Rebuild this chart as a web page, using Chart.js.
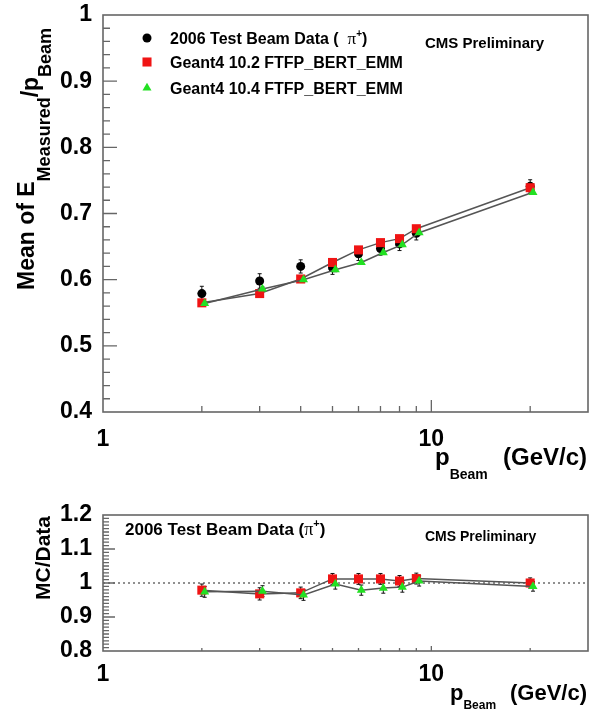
<!DOCTYPE html>
<html>
<head>
<meta charset="utf-8">
<script src="https://cdn.jsdelivr.net/npm/chart.js@4.4.1/dist/chart.umd.min.js"></script>
<style>
  body { margin: 0; background: #fff; }
  canvas { position: absolute; left: 0; }
  #top { top: 0; }
  #bot { top: 480px; }
</style>
</head>
<body>
<canvas id="top" width="598" height="480"></canvas>
<canvas id="bot" width="598" height="231"></canvas>
<script>
// beam momenta (GeV/c); the G4 10.4 markers sit slightly to the right in the picture
const pBeam = [2, 3, 4, 5, 6, 7, 8, 9, 20];
const pBeamG104 = [2.04, 3.06, 4.08, 5.1, 6.12, 7.14, 8.16, 9.18, 20.4];

// upper panel: mean of E_measured / p_beam
const meanData = [0.579, 0.598, 0.620, 0.618, 0.639, 0.647, 0.654, 0.670, 0.741];
const meanDataErr = [0.011, 0.011, 0.010, 0.010, 0.010, 0.010, 0.010, 0.010, 0.010];
const meanG102 = [0.565, 0.579, 0.601, 0.626, 0.645, 0.656, 0.662, 0.677, 0.739];
const meanG102Err = [0.003, 0.003, 0.003, 0.003, 0.003, 0.003, 0.003, 0.003, 0.003];
const meanG104 = [0.564, 0.586, 0.600, 0.615, 0.626, 0.641, 0.653, 0.671, 0.732];
const meanG104Err = [0.003, 0.003, 0.003, 0.003, 0.003, 0.003, 0.003, 0.003, 0.003];

// lower panel: MC / data
const ratioG102 = [0.979, 0.968, 0.971, 1.012, 1.012, 1.012, 1.006, 1.013, 1.000];
const ratioG102Err = [0.018, 0.018, 0.017, 0.016, 0.016, 0.016, 0.016, 0.016, 0.015];
const ratioG104 = [0.974, 0.976, 0.965, 0.997, 0.979, 0.985, 0.988, 1.006, 0.990];
const ratioG104Err = [0.016, 0.016, 0.016, 0.015, 0.015, 0.015, 0.015, 0.015, 0.014];

const topYTicks = [0.4, 0.5, 0.6, 0.7, 0.8, 0.9, 1];
const botYTicks = [0.8, 0.9, 1, 1.1, 1.2];
const xTickLabels = [1, 10];

const RED = "#f01414";
const GREEN = "#22e022";
const FRAME = "#666";
const SANS = '"Liberation Sans", Arial, Helvetica, sans-serif';

function pts(xs, ys) {
  return xs.map((x, i) => ({ x: x, y: ys[i] }));
}

function fnt(size, serif) {
  if (serif) return size + 'px "Liberation Serif", "DejaVu Serif", serif';
  return "bold " + size + "px " + SANS;
}

// draws a run of text pieces (sub/superscripts via dy), returns end x
function rich(ctx, x, y, parts) {
  let cx = x;
  parts.forEach((p) => {
    ctx.font = fnt(p.s, p.serif);
    ctx.fillText(p.t, cx, y + (p.dy || 0));
    cx += ctx.measureText(p.t).width;
  });
  return cx;
}

function richWidth(ctx, parts) {
  let w = 0;
  parts.forEach((p) => {
    ctx.font = fnt(p.s, p.serif);
    w += ctx.measureText(p.t).width;
  });
  return w;
}

function marker(ctx, style, x, y, r, color) {
  ctx.fillStyle = color;
  ctx.beginPath();
  if (style == "circle") {
    ctx.arc(x, y, r, 0, Math.PI * 2);
  } else if (style == "rect") {
    const s = r * Math.SQRT1_2;
    ctx.rect(x - s, y - s, 2 * s, 2 * s);
  } else {
    ctx.moveTo(x, y - r);
    ctx.lineTo(x + r * 0.866, y + r * 0.5);
    ctx.lineTo(x - r * 0.866, y + r * 0.5);
    ctx.closePath();
  }
  ctx.fill();
}

function decor(cfg) {
  return {
    id: "decor",
    beforeDatasetsDraw(chart) {
      const ctx = chart.ctx;
      const a = chart.chartArea;
      const xs = chart.scales.x;
      const ys = chart.scales.y;
      ctx.save();
      if (cfg.refLine != null) {
        const py = ys.getPixelForValue(cfg.refLine);
        ctx.strokeStyle = "#222";
        ctx.lineWidth = 1.2;
        ctx.setLineDash([2, 3]);
        ctx.beginPath();
        ctx.moveTo(a.left, py);
        ctx.lineTo(a.right, py);
        ctx.stroke();
        ctx.setLineDash([]);
      }
      // error bars
      ctx.strokeStyle = "#111";
      ctx.lineWidth = 1;
      chart.data.datasets.forEach((ds) => {
        if (!ds.err) return;
        ds.data.forEach((p, j) => {
          const px = xs.getPixelForValue(p.x);
          const hi = ys.getPixelForValue(p.y + ds.err[j]);
          const lo = ys.getPixelForValue(p.y - ds.err[j]);
          ctx.beginPath();
          ctx.moveTo(px, hi);
          ctx.lineTo(px, lo);
          ctx.moveTo(px - 2, hi);
          ctx.lineTo(px + 2, hi);
          ctx.moveTo(px - 2, lo);
          ctx.lineTo(px + 2, lo);
          ctx.stroke();
        });
      });
      ctx.restore();
    },
    afterDraw(chart) {
      const ctx = chart.ctx;
      const a = chart.chartArea;
      const xs = chart.scales.x;
      const ys = chart.scales.y;
      ctx.save();
      // ROOT style frame with inward ticks
      ctx.strokeStyle = FRAME;
      ctx.lineWidth = 1.6;
      ctx.strokeRect(a.left, a.top, a.right - a.left, a.bottom - a.top);
      ctx.lineWidth = 1.3;
      ctx.beginPath();
      const n = Math.round((ys.max - ys.min) / cfg.yMinor);
      const per = Math.round(0.1 / cfg.yMinor);
      for (let k = 1; k < n; k++) {
        const py = ys.getPixelForValue(ys.min + k * cfg.yMinor);
        const len = k % per == 0 ? cfg.yMajorLen : cfg.yMinorLen;
        ctx.moveTo(a.left, py);
        ctx.lineTo(a.left + len, py);
      }
      [1, 10].forEach((d) => {
        for (let m = 1; m <= 9; m++) {
          const v = m * d;
          if (v <= xs.min || v >= xs.max) continue;
          const px = xs.getPixelForValue(v);
          const len = m == 1 ? cfg.xMajorLen : cfg.xMinorLen;
          ctx.moveTo(px, a.bottom);
          ctx.lineTo(px, a.bottom - len);
        }
      });
      ctx.stroke();
      ctx.fillStyle = "#000";
      ctx.textBaseline = "alphabetic";
      cfg.texts(ctx, chart);
      ctx.restore();
    },
  };
}

function baseOptions(cfg) {
  return {
    responsive: false,
    animation: false,
    devicePixelRatio: 1,
    layout: { padding: { top: cfg.padTop, right: 10, left: 0, bottom: 0 } },
    plugins: { legend: { display: false }, tooltip: { enabled: false } },
    scales: {
      x: {
        type: "logarithmic",
        min: 1,
        max: 30,
        grid: { display: false },
        border: { display: false },
        afterBuildTicks: (s) => { s.ticks = xTickLabels.map((v) => ({ value: v })); },
        afterFit: (s) => { s.height = cfg.xHeight; },
        ticks: {
          autoSkip: false,
          maxRotation: 0,
          padding: cfg.xPad,
          color: "#000",
          font: { family: SANS, size: 23, weight: "bold", lineHeight: 1 },
          callback: (v) => String(v),
        },
      },
      y: {
        min: cfg.yMin,
        max: cfg.yMax,
        grid: { display: false },
        border: { display: false },
        afterBuildTicks: (s) => { s.ticks = cfg.yTicks.map((v) => ({ value: v })); },
        afterFit: (s) => { s.width = 103; },
        ticks: {
          padding: 3,
          color: "#000",
          font: { family: SANS, size: 23, weight: "bold", lineHeight: 1 },
          callback: (v) => String(Math.round(v * 10) / 10),
        },
      },
    },
  };
}

function mcLine(xs, ys, err, style, radius, color, order) {
  return {
    data: pts(xs, ys),
    err: err,
    showLine: true,
    borderColor: "#555",
    borderWidth: 1.5,
    pointStyle: style,
    pointRadius: radius,
    pointBackgroundColor: color,
    pointBorderColor: color,
    pointBorderWidth: 0,
    order: order,
  };
}

// ---------- upper panel ----------
const topCfg = {
  padTop: 15, xHeight: 68, xPad: 8, yMin: 0.4, yMax: 1.0, yTicks: topYTicks,
  yMinor: 0.02, yMajorLen: 14, yMinorLen: 7, xMajorLen: 12, xMinorLen: 6,
  texts(ctx) {
    // legend
    marker(ctx, "circle", 147, 38, 4.5, "#000");
    marker(ctx, "rect", 147, 62, 6.4, RED);
    marker(ctx, "tri", 147, 88, 5.2, GREEN);
    ctx.fillStyle = "#000";
    rich(ctx, 170, 44, [
      { t: "2006 Test Beam Data (  ", s: 16 },
      { t: "π", s: 17, serif: true },
      { t: "+", s: 10, dy: -7 },
      { t: ")", s: 16 },
    ]);
    rich(ctx, 170, 68, [{ t: "Geant4 10.2 FTFP_BERT_EMM", s: 16 }]);
    rich(ctx, 170, 94, [{ t: "Geant4 10.4 FTFP_BERT_EMM", s: 16 }]);
    rich(ctx, 425, 48, [{ t: "CMS Preliminary", s: 15 }]);
    // x title
    const unit = [{ t: "(GeV/c)", s: 24 }];
    rich(ctx, 587 - richWidth(ctx, unit), 465, unit);
    rich(ctx, 435, 465, [{ t: "p", s: 24 }, { t: "Beam", s: 14, dy: 14 }]);
    // y title
    ctx.save();
    ctx.translate(34, 290);
    ctx.rotate(-Math.PI / 2);
    rich(ctx, 0, 0, [
      { t: "Mean of E", s: 23 },
      { t: "Measured", s: 18, dy: 16 },
      { t: "/", s: 23, dy: 4 },
      { t: "p", s: 23, dy: 4 },
      { t: "Beam", s: 18, dy: 17 },
    ]);
    ctx.restore();
  },
};

new Chart(document.getElementById("top"), {
  type: "scatter",
  data: {
    datasets: [
      {
        data: pts(pBeam, meanData),
        err: meanDataErr,
        showLine: false,
        pointStyle: "circle",
        pointRadius: 4.5,
        pointBackgroundColor: "#000",
        pointBorderColor: "#000",
        pointBorderWidth: 0,
        order: 3,
      },
      mcLine(pBeam, meanG102, meanG102Err, "rect", 6.4, RED, 2),
      mcLine(pBeamG104, meanG104, meanG104Err, "triangle", 5.2, GREEN, 1),
    ],
  },
  options: baseOptions(topCfg),
  plugins: [decor(topCfg)],
});

// ---------- lower panel ----------
const botCfg = {
  padTop: 35, xHeight: 60, xPad: 4, yMin: 0.8, yMax: 1.2, yTicks: botYTicks,
  yMinor: 0.01, yMajorLen: 12, yMinorLen: 6, xMajorLen: 5, xMinorLen: 3,
  refLine: 1,
  texts(ctx) {
    rich(ctx, 125, 55, [
      { t: "2006 Test Beam Data (", s: 17 },
      { t: "π", s: 18, serif: true },
      { t: "+", s: 11, dy: -8 },
      { t: ")", s: 17 },
    ]);
    rich(ctx, 425, 61, [{ t: "CMS Preliminary", s: 14 }]);
    const unit = [{ t: "(GeV/c)", s: 22 }];
    rich(ctx, 587 - richWidth(ctx, unit), 220, unit);
    rich(ctx, 450, 220, [{ t: "p", s: 22 }, { t: "Beam", s: 12, dy: 9 }]);
    ctx.save();
    const t = [{ t: "MC/Data", s: 21 }];
    ctx.translate(50, 78 + richWidth(ctx, t) / 2);
    ctx.rotate(-Math.PI / 2);
    rich(ctx, 0, 0, t);
    ctx.restore();
  },
};

new Chart(document.getElementById("bot"), {
  type: "scatter",
  data: {
    datasets: [
      mcLine(pBeam, ratioG102, ratioG102Err, "rect", 6.4, RED, 2),
      mcLine(pBeamG104, ratioG104, ratioG104Err, "triangle", 5.2, GREEN, 1),
    ],
  },
  options: baseOptions(botCfg),
  plugins: [decor(botCfg)],
});
</script>
</body>
</html>
